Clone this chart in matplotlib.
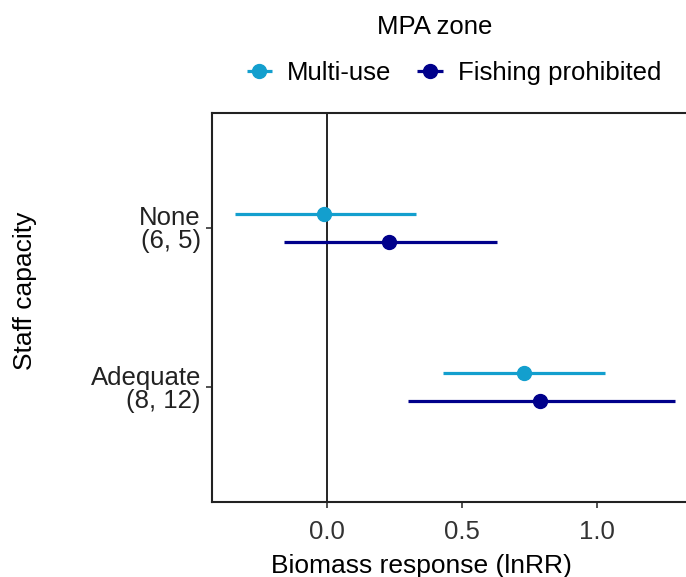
import matplotlib
matplotlib.use("Agg")
import matplotlib.pyplot as plt
import numpy as np

plt.rcParams["font.family"] = ["Liberation Sans", "DejaVu Sans"]

categories = ["None\n(6, 5)", "Adequate\n(8, 12)"]
zones = ["Multi-use", "Fishing prohibited"]
colors = ["#139FCE", "#00008B"]
# estimates and 95% CI per zone, per category
est = {"Multi-use": [-0.01, 0.73], "Fishing prohibited": [0.23, 0.79]}
lo = {"Multi-use": [-0.34, 0.43], "Fishing prohibited": [-0.16, 0.30]}
hi = {"Multi-use": [0.33, 1.03], "Fishing prohibited": [0.63, 1.29]}

FS = 18.5
fig = plt.figure(figsize=(6.86, 5.77), dpi=100)
ax = fig.add_axes([0.309, 0.13, 0.72, 0.674])

ypos = np.arange(len(categories))
dodge = {"Multi-use": -0.0875, "Fishing prohibited": 0.0875}
ax.axvline(0, color="black", lw=1.2, zorder=1)
for z, col in zip(zones, colors):
    y = ypos + dodge[z]
    e = np.array(est[z])
    ax.errorbar(e, y, xerr=[e - np.array(lo[z]), np.array(hi[z]) - e], fmt="o",
                color=col, ms=10, lw=2.3, capsize=0, label=z, zorder=3)

ax.set_ylim(len(categories) - 1 + 0.72, -0.72)
ax.set_xlim(-0.426, 1.404)
ax.set_yticks(ypos)
ax.set_yticklabels(categories, fontsize=FS, color="#222222", multialignment="right",
                   linespacing=0.95)
ax.set_xticks([0.0, 0.5, 1.0])
ax.set_xticklabels(["0.0", "0.5", "1.0"], fontsize=FS, color="#333333")
ax.tick_params(length=4, width=1.2, color="#333333", pad=4)
ax.tick_params(axis="x", pad=9)
for s in ax.spines.values():
    s.set_linewidth(1.5)
    s.set_color("#222222")

# axis titles placed to match the original figure
fig.text(421 / 686, 0.019, "Biomass response (lnRR)", fontsize=FS + 0.5,
         ha="center", va="center")
fig.text(25 / 686, 1 - 291 / 577, "Staff capacity", fontsize=FS + 0.5,
         rotation=90, ha="center", va="center")

fig.text(435 / 686, 1 - 27 / 577, "MPA zone", fontsize=FS, ha="center", va="center")
fig.legend(loc="center", bbox_to_anchor=(452 / 686, 1 - 73 / 577), ncol=2, frameon=False,
           fontsize=FS, handlelength=1.3, columnspacing=0.85, handletextpad=0.43,
           borderpad=0, borderaxespad=0)

fig.savefig("out.png", dpi=100)
